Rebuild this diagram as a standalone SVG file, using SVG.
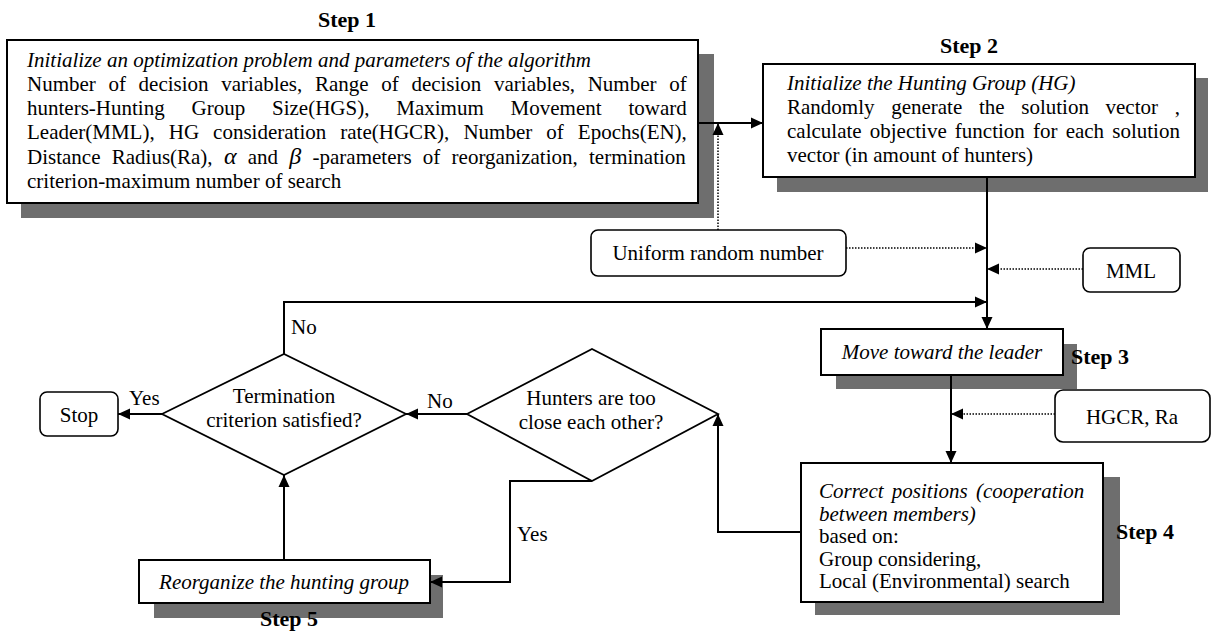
<svg xmlns="http://www.w3.org/2000/svg" width="1212" height="633" viewBox="0 0 1212 633">
<defs>
<style>
text { font-family: "Liberation Serif", "Times New Roman", serif; font-size: 21px; fill: #000; }
.it { font-style: italic; }
.step { font-weight: bold; font-size: 22px; }
.c { text-anchor: middle; }
.box { fill: #fff; stroke: #000; stroke-width: 2; }
.shadow { fill: #6e6e6e; }
.rbox { fill: #fff; stroke: #000; stroke-width: 1.6; }
.dia { fill: #fff; stroke: #000; stroke-width: 1.8; }
.line { fill: none; stroke: #000; stroke-width: 2; }
.dot { fill: none; stroke: #000; stroke-width: 1.5; stroke-dasharray: 1.5 1.5; }
</style>
<marker id="ah" viewBox="0 0 12 12" refX="12" refY="6" markerWidth="12" markerHeight="12" markerUnits="userSpaceOnUse" orient="auto"><path d="M0,0.5 L12,6 L0,11.5 z" fill="#000"/></marker>
</defs>
<rect width="1212" height="633" fill="#fff"/>

<g id="step1">
<text class="step c" x="347" y="27">Step 1</text>
<rect class="shadow" x="21" y="54" width="693" height="164"/>
<rect class="box" x="7" y="40" width="691" height="163" stroke-width="2.5"/>
<text class="it" x="27" y="67">Initialize an optimization problem and parameters of the algorithm</text>
<text x="27" y="91" word-spacing="7.4">Number of decision variables, Range of decision variables, Number of</text>
<text x="27" y="115" word-spacing="21.6">hunters-Hunting Group Size(HGS), Maximum Movement toward</text>
<text x="27" y="139" word-spacing="8.8">Leader(MML), HG consideration rate(HGCR), Number of Epochs(EN),</text>
<text x="27" y="164" word-spacing="6">Distance Radius(Ra), <tspan class="it" font-size="24">α</tspan> and <tspan class="it" font-size="24">β</tspan> -parameters of reorganization, termination</text>
<text x="27" y="188">criterion-maximum number of search</text>
</g>

<g id="step2">
<text class="step c" x="969" y="53">Step 2</text>
<rect class="shadow" x="777" y="78" width="431" height="114"/>
<rect class="box" x="763" y="64" width="432" height="113"/>
<text class="it" x="787" y="90">Initialize the Hunting Group (HG)</text>
<text x="787" y="114" word-spacing="11.4">Randomly generate the solution vector ,</text>
<text x="787" y="138" word-spacing="2.9">calculate objective function for each solution</text>
<text x="787" y="162">vector (in amount of hunters)</text>
</g>

<g id="uniform">
<rect class="rbox" x="591" y="230" width="255" height="46" rx="7"/>
<text class="c" x="718" y="260">Uniform random number</text>
</g>

<g id="mml">
<rect class="rbox" x="1083" y="248" width="97" height="44" rx="7"/>
<text class="c" x="1131" y="278">MML</text>
</g>

<g id="step3">
<rect class="shadow" x="836" y="344" width="241" height="45"/>
<rect class="box" x="821" y="329" width="242" height="46"/>
<text class="it c" x="942" y="359">Move toward the leader</text>
<text class="step" x="1071" y="364">Step 3</text>
</g>

<g id="hgcr">
<rect class="rbox" x="1055" y="390" width="155" height="52" rx="8"/>
<text class="c" x="1132" y="424">HGCR, Ra</text>
</g>

<g id="step4">
<rect class="shadow" x="815" y="477" width="305" height="138"/>
<rect class="box" x="801" y="463" width="302" height="139"/>
<text class="it" x="819" y="498" word-spacing="3">Correct positions (cooperation</text>
<text class="it" x="819" y="520.5">between members)</text>
<text x="819" y="543">based on:</text>
<text x="819" y="565.5">Group considering,</text>
<text x="819" y="588">Local (Environmental) search</text>
<text class="step" x="1116" y="539">Step 4</text>
</g>

<g id="close">
<polygon class="dia" points="467,414 592,349 718,414 592,481"/>
<text class="c" x="591" y="405">Hunters are too</text>
<text class="c" x="591" y="429">close each other?</text>
</g>

<g id="termination">
<polygon class="dia" points="162,414 284,354 406,414 284,475"/>
<text class="c" x="284" y="403">Termination</text>
<text class="c" x="284" y="427">criterion satisfied?</text>
</g>

<g id="stop">
<rect class="rbox" x="40" y="392" width="78" height="44" rx="7"/>
<text class="c" x="79" y="422">Stop</text>
</g>

<g id="step5">
<rect class="shadow" x="154" y="575" width="289" height="43"/>
<rect class="box" x="139" y="560" width="291" height="43"/>
<text class="it c" x="284" y="589">Reorganize the hunting group</text>
<text class="step c" x="289" y="626">Step 5</text>
</g>

<g id="connectors">
<path class="line" d="M698,123 L763,123" marker-end="url(#ah)"/>
<path class="dot" d="M718,230 L718,123" marker-end="url(#ah)"/>
<path class="dot" d="M846,248 L987,248" marker-end="url(#ah)"/>
<path class="dot" d="M1083,269 L987,269" marker-end="url(#ah)"/>
<path class="line" d="M987,177 L987,329" marker-end="url(#ah)"/>
<path class="line" d="M284,354 L284,302 L987,302" marker-end="url(#ah)"/>
<path class="line" d="M951,375 L951,463" marker-end="url(#ah)"/>
<path class="dot" d="M1055,414 L951,414" marker-end="url(#ah)"/>
<path class="line" d="M801,532 L718,532 L718,414" marker-end="url(#ah)"/>
<path class="line" d="M467,414 L406,414" marker-end="url(#ah)"/>
<path class="line" d="M162,414 L118,414" marker-end="url(#ah)"/>
<path class="line" d="M592,481 L510,481 L510,582 L430,582" marker-end="url(#ah)"/>
<path class="line" d="M284,560 L284,475" marker-end="url(#ah)"/>
<text x="291" y="334">No</text>
<text x="427" y="408">No</text>
<text x="129" y="405">Yes</text>
<text x="517" y="541">Yes</text>
</g>
</svg>
